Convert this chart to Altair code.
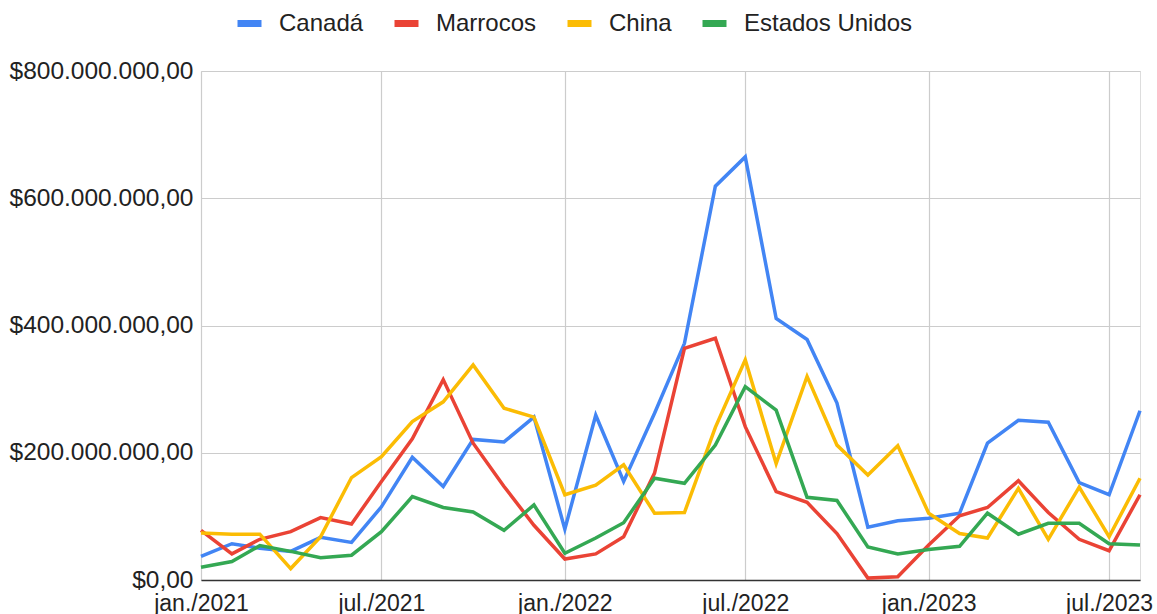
import altair as alt
import pandas as pd

# Monthly series, Jan 2021 .. Aug 2023 (values in millions of dollars)
months = pd.date_range("2021-01-01", "2023-08-01", freq="MS").strftime("%Y-%m-%d").tolist()

canada = [37, 57, 50, 45, 67, 59, 115, 193, 147, 221, 217, 256,
          80, 259, 155, 262, 372, 619, 665, 411, 378, 278, 83, 93,
          97, 105, 215, 251, 248, 153, 134, 266]
marrocos = [78, 41, 64, 76, 98, 88, 155, 222, 315, 215, 147, 86,
            33, 41, 68, 168, 364, 380, 241, 139, 122, 73, 3, 5,
            55, 101, 114, 156, 106, 64, 46, 134]
china = [74, 72, 72, 18, 68, 161, 194, 249, 280, 338, 270, 256,
         134, 149, 181, 105, 106, 240, 346, 183, 320, 212, 165, 211,
         105, 73, 66, 144, 64, 146, 68, 160]
estados_unidos = [20, 29, 54, 45, 35, 39, 76, 131, 114, 107, 78, 118,
                  42, 66, 90, 160, 152, 212, 304, 267, 130, 125, 52, 41,
                  48, 53, 105, 72, 89, 89, 57, 55]

series_names = ["Canadá", "Marrocos", "China", "Estados Unidos"]
series_values = [canada, marrocos, china, estados_unidos]
series_colors = ["#4285F4", "#EA4335", "#FBBC04", "#34A853"]

y_ticks = [0, 200e6, 400e6, 600e6, 800e6]
x_tick_dates = ["2021-01-01", "2021-07-01", "2022-01-01", "2022-07-01", "2023-01-01", "2023-07-01"]

rows = []
for name, vals in zip(series_names, series_values):
    for m, v in zip(months, vals):
        rows.append({"mes": m, "pais": name, "valor": v * 1e6})
df = pd.DataFrame(rows)


def ms(d):
    return int(pd.Timestamp(d, tz="UTC").value // 10**6)


FONT = "Liberation Sans"

chart = (
    alt.Chart(df)
    .mark_line(strokeWidth=3.5, strokeJoin="miter", strokeCap="butt")
    .encode(
        x=alt.X(
            "mes:T",
            title=None,
            scale=alt.Scale(type="utc", domain=[ms(months[0]), ms(months[-1])]),
            axis=alt.Axis(
                values=[ms(d) for d in x_tick_dates],
                labelExpr="(utcmonth(datum.value) == 0 ? 'jan.' : 'jul.') + '/' + utcyear(datum.value)",
                labelFont=FONT,
                labelFontSize=23,
                labelColor="#222222",
                labelPadding=12,
                labelFlush=False,
                labelOverlap=False,
                ticks=False,
                domain=True,
                domainColor="#333333",
                domainWidth=1.5,
                grid=True,
                gridColor="#cccccc",
                gridWidth=1.2,
            ),
        ),
        y=alt.Y(
            "valor:Q",
            title=None,
            scale=alt.Scale(domain=[0, 800e6], nice=False),
            axis=alt.Axis(
                values=y_ticks,
                labelExpr="'$' + (datum.value == 0 ? '0,00' : format(datum.value / 1e6, 'd') + '.000.000,00')",
                labelFont=FONT,
                labelFontSize=24.5,
                labelColor="#222222",
                labelPadding=8,
                labelLimit=400,
                labelFlush=False,
                ticks=False,
                domain=False,
                grid=True,
                gridColor="#cccccc",
                gridWidth=1.2,
            ),
        ),
        color=alt.Color(
            "pais:N",
            sort=series_names,
            scale=alt.Scale(domain=series_names, range=series_colors),
            legend=alt.Legend(
                title=None,
                orient="none",
                direction="horizontal",
                legendX=33,
                legendY=-63,
                padding=0,
                gridAlign="none",
                symbolType="stroke",
                symbolSize=576,
                symbolStrokeWidth=7,
                labelFont=FONT,
                labelFontSize=24,
                labelColor="#222222",
                labelLimit=400,
                labelOffset=14,
                columnPadding=16,
            ),
        ),
        order=alt.Order("pais:N"),
    )
    .properties(
        width=939,
        height=509,
        autosize=alt.AutoSizeParams(type="none"),
        padding={"left": 201, "top": 71, "right": 17, "bottom": 34},
    )
    .configure_view(stroke=None)
    .configure(background="white")
)

chart.save("out.html", embed_options={"renderer": "svg", "actions": False})
